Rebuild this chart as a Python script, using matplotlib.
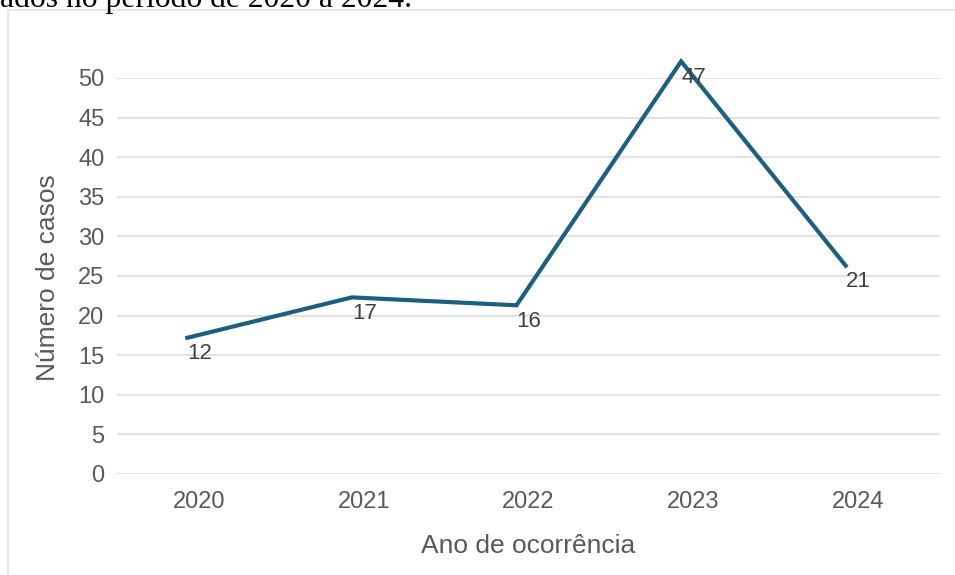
import matplotlib
matplotlib.use("Agg")
import matplotlib.pyplot as plt
import matplotlib.transforms as mtransforms
from matplotlib.patches import Rectangle

# dados
anos = ["2020", "2021", "2022", "2023", "2024"]
casos = [12, 17, 16, 47, 21]              # rótulos de dados
linha = [17.2, 22.3, 21.3, 52.1, 26.3]    # altura da linha no eixo
yticks = [0, 5, 10, 15, 20, 25, 30, 35, 40, 45, 50]

plt.rcParams['font.family'] = ['Liberation Sans', 'DejaVu Sans']

fig = plt.figure(figsize=(9.55, 5.75), dpi=100)
ax = fig.add_axes([117 / 955, 1 - 474 / 575, (940 - 117) / 955, (474 - 78) / 575])

x = list(range(len(anos)))
# a linha aparece deslocada ~12 px para a esquerda das categorias
trans = mtransforms.offset_copy(ax.transData, fig=fig, x=-12, y=0, units='dots')
ax.plot(x, linha, color='#1d5f7f', lw=3.0, transform=trans, clip_on=False,
        solid_joinstyle='miter', zorder=3)

for xi, yi, c in zip(x, linha, casos):
    ax.annotate(str(c), (xi, yi), xycoords=trans, xytext=(0, -4),
                textcoords='offset points', ha='left', va='top',
                fontsize=16, color='#404040', zorder=4)

ax.set_xlim(-0.5, 4.5)
ax.set_ylim(0, 50)
ax.set_xticks(x)
ax.set_xticklabels(anos)
ax.set_yticks(yticks)
ax.tick_params(axis='both', length=0, labelsize=17, labelcolor='#595959')
ax.tick_params(axis='x', pad=12)
ax.tick_params(axis='y', pad=9)
ax.grid(axis='y', color='#e3e3e3', lw=1.5)
ax.set_axisbelow(True)
for s in ax.spines.values():
    s.set_visible(False)

fig.text(48 / 955, 1 - 278 / 575, "Número de casos", rotation=90,
         ha='center', va='center', fontsize=19, color='#595959')
fig.text(528 / 955, 1 - 546 / 575, "Ano de ocorrência",
         ha='center', va='center', fontsize=19, color='#595959')

# moldura do gráfico e texto cortado acima
fig.add_artist(Rectangle((8 / 955, -0.05), 1.2, 1 - 10 / 575 + 0.05,
                         transform=fig.transFigure, fill=False,
                         edgecolor='#e6e6e6', lw=1.5))
fig.text(0, 1 - 7 / 575, "ados no período de 2020 a 2024.", ha='left',
         va='baseline', fontsize=22.8, family=['Liberation Serif', 'DejaVu Serif'],
         color='black')

fig.savefig("out.png", dpi=100)
